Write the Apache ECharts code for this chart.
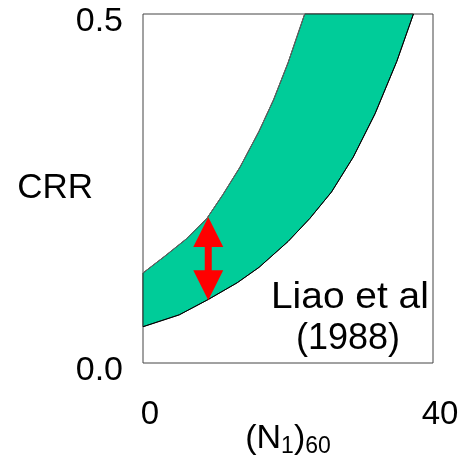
<!DOCTYPE html>
<html>
<head>
<meta charset="utf-8">
<script src="https://cdn.jsdelivr.net/npm/echarts@6/dist/echarts.min.js"></script>
<style>
  html, body { margin: 0; padding: 0; background: #fff; }
  #chart { width: 464px; height: 462px; }
</style>
</head>
<body>
<div id="chart"></div>
<script>
// Upper and lower bounds of the CRR band versus (N1)60
const upperN   = [0, 3, 6, 8.8, 11, 13.4, 16, 18, 20, 22.3];
const upperCRR = [0.129, 0.153, 0.178, 0.207, 0.241, 0.281, 0.332, 0.377, 0.430, 0.5];
const lowerN   = [0, 5, 9, 13, 16, 20, 23, 26, 29, 32, 35, 37.3];
const lowerCRR = [0.052, 0.069, 0.091, 0.115, 0.137, 0.174, 0.207, 0.245, 0.295, 0.357, 0.432, 0.5];

// Double arrow showing the band width
const arrowN = 9;
const arrowTop = 0.209;
const arrowBottom = 0.090;

// Axis ranges and tick labels
const xMin = 0, xMax = 40;
const yMin = 0, yMax = 0.5;
const xTickLabels = ['0', '40'];
const yTickLabels = ['0.0', '0.5'];

const upperPts = upperN.map((n, i) => [n, upperCRR[i]]);
const lowerPts = lowerN.map((n, i) => [n, lowerCRR[i]]);

const FONT = 'Liberation Sans, Arial, sans-serif';
const chart = echarts.init(document.getElementById('chart'));

chart.setOption({
  animation: false,
  backgroundColor: '#fff',
  grid: {
    left: 143, right: 31, top: 14, bottom: 99,
    containLabel: false, outerBoundsMode: 'none',
    show: true, borderColor: '#444', borderWidth: 1, backgroundColor: 'transparent'
  },
  xAxis: {
    type: 'value', min: xMin, max: xMax, interval: xMax - xMin,
    axisLine: { show: false }, axisTick: { show: false }, splitLine: { show: false },
    axisLabel: {
      margin: 35, fontSize: 33, color: '#000', fontFamily: FONT,
      padding: [0, 0, 0, 14],
      formatter: v => xTickLabels[v === xMin ? 0 : 1]
    },
    name: '(N{sub|1}){sub|60}',
    nameLocation: 'middle', nameGap: 56, nameMoveOverlap: false,
    nameTextStyle: {
      fontSize: 34, color: '#000', fontFamily: FONT,
      rich: { sub: { fontSize: 23, color: '#000', fontFamily: FONT, padding: [16, 0, 0, 0] } }
    }
  },
  yAxis: {
    type: 'value', min: yMin, max: yMax, interval: yMax - yMin,
    axisLine: { show: false }, axisTick: { show: false }, splitLine: { show: false },
    axisLabel: {
      margin: 20, fontSize: 34, color: '#000', fontFamily: FONT,
      verticalAlign: 'top', lineHeight: 16,
      formatter: v => yTickLabels[v === yMin ? 0 : 1]
    },
    name: 'CRR', nameLocation: 'middle', nameRotate: 0, nameGap: 50, nameMoveOverlap: false,
    nameTextStyle: { fontSize: 35, color: '#000', fontFamily: FONT }
  },
  graphic: [
    { type: 'text', left: 271, top: 280, scaleX: 1.08,
      style: { text: 'Liao et al', fontSize: 36, fill: '#000', fontFamily: FONT } },
    { type: 'text', left: 296, top: 321,
      style: { text: '(1988)', fontSize: 36, fill: '#000', fontFamily: FONT } }
  ],
  series: [
    {
      // filled band between the two bounds
      type: 'custom',
      coordinateSystem: 'cartesian2d',
      data: [[0, 0]],
      z: 2,
      renderItem: function (params, api) {
        const pts = upperPts.map(p => api.coord(p))
          .concat(lowerPts.slice().reverse().map(p => api.coord(p)));
        return {
          type: 'polygon',
          shape: { points: pts },
          style: { fill: '#00CC99', stroke: '#222', lineWidth: 1 }
        };
      }
    },
    {
      type: 'line', data: upperPts, symbol: 'none', z: 3,
      lineStyle: { color: '#666', width: 1 }
    },
    {
      type: 'line', data: lowerPts, symbol: 'none', z: 3,
      lineStyle: { color: '#000', width: 1 }
    },
    {
      // red double-headed arrow
      type: 'custom',
      coordinateSystem: 'cartesian2d',
      data: [[arrowN, arrowTop, arrowBottom]],
      z: 4,
      renderItem: function (params, api) {
        const top = api.coord([api.value(0), api.value(1)]);
        const bot = api.coord([api.value(0), api.value(2)]);
        const x = top[0], hw = 15, hh = 30, sw = 3.5;
        return {
          type: 'group',
          children: [
            { type: 'rect', shape: { x: x - sw, y: top[1] + hh - 1, width: sw * 2, height: bot[1] - top[1] - 2 * hh + 2 },
              style: { fill: '#FF0000' } },
            { type: 'polygon', shape: { points: [[x, top[1]], [x - hw, top[1] + hh], [x + hw, top[1] + hh]] },
              style: { fill: '#FF0000' } },
            { type: 'polygon', shape: { points: [[x, bot[1]], [x - hw, bot[1] - hh], [x + hw, bot[1] - hh]] },
              style: { fill: '#FF0000' } }
          ]
        };
      }
    }
  ]
});
</script>
</body>
</html>
